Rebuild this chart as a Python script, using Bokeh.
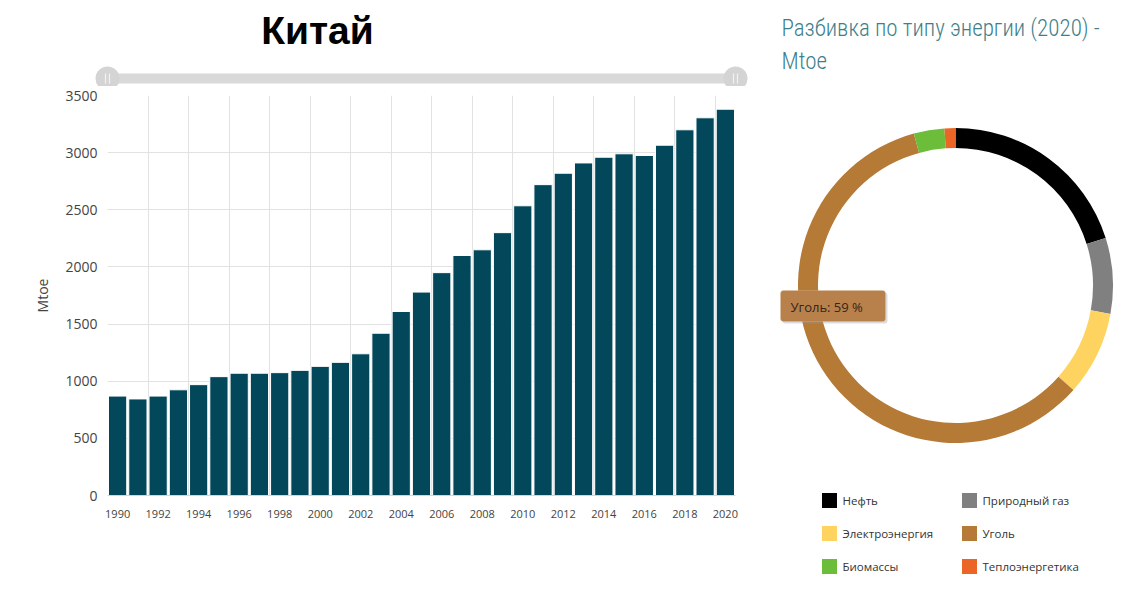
import numpy as np
from bokeh.plotting import figure
from bokeh.models import Range1d, FixedTicker, BoxAnnotation, Label
from bokeh.layouts import row, column
from bokeh.embed import file_html
from bokeh.resources import INLINE
from bokeh.core.properties import value

# ---------------- data ----------------
years = list(range(1990, 2021))
consumption = [870, 845, 870, 925, 970, 1040, 1070, 1070, 1075, 1095,
               1130, 1165, 1240, 1420, 1610, 1780, 1950, 2100, 2150, 2300,
               2535, 2720, 2820, 2910, 2960, 2990, 2975, 3065, 3200, 3305, 3380]
year_ticks = list(range(1990, 2021, 2))
y_ticks = [0, 500, 1000, 1500, 2000, 2500, 3000, 3500]

energy_types = ["Нефть", "Природный газ", "Электроэнергия", "Уголь", "Биомассы", "Теплоэнергетика"]
energy_values = [680, 262, 292, 2000, 106, 38]
energy_colors = ["#000000", "#808080", "#ffd35f", "#b47a36", "#6cbd3a", "#eb6527"]

title_left = "Китай"
title_right_1 = "Разбивка по типу энергии (2020) -"
title_right_2 = "Mtoe"
y_label = "Mtoe"

BAR_COLOR = "#03485a"
FONT = "Open Sans"
COND_FONT = "Roboto Condensed Light, Roboto Condensed, Roboto"

# ---------------- top strip: title + range slider ----------------
TOP_H = 86
top = figure(width=768, height=TOP_H, x_range=Range1d(0, 768), y_range=Range1d(TOP_H, 0),
             output_backend="svg", toolbar_location=None, min_border=0)
top.frame_align = False
top.axis.visible = False
top.grid.visible = False
top.outline_line_color = None
top.text(x=[317], y=[30], text=[title_left], text_font=value("Liberation Sans"),
         text_font_style="bold", text_font_size="39px", text_color="#000000",
         text_align="center", text_baseline="middle")
top.rect(x=[421], y=[78], width=628, height=10, fill_color="#d9d9d9", line_color=None)
top.circle(x=[107, 735], y=[78, 78], radius=12, fill_color="#d4d4d4", line_color=None)
top.segment(x0=[105, 109, 733, 737], y0=[73] * 4, x1=[105, 109, 733, 737], y1=[83] * 4,
            line_color="#f2f2f2", line_width=1.2)

# ---------------- bar chart ----------------
p = figure(width=768, height=443, x_range=Range1d(1989.5, 2020.5), y_range=Range1d(0, 3500),
           output_backend="svg", toolbar_location=None,
           min_border_left=107, min_border_right=33, min_border_top=9, min_border_bottom=34)
p.frame_align = False
p.outline_line_color = None
p.vbar(x=years, top=consumption, width=0.9, fill_color=BAR_COLOR, line_color="white", line_width=1)

p.xaxis.ticker = FixedTicker(ticks=year_ticks)
p.yaxis.ticker = FixedTicker(ticks=y_ticks)
p.xgrid.ticker = FixedTicker(ticks=[y - 0.5 for y in year_ticks] + [years[-1] + 0.5])
p.ygrid.ticker = FixedTicker(ticks=y_ticks)
p.grid.grid_line_color = "#e2e2e2"
p.grid.grid_line_width = 1

for ax in (p.xaxis, p.yaxis):
    ax.major_tick_line_color = None
    ax.minor_tick_line_color = None
    ax.major_tick_out = 0
    ax.major_tick_in = 0
    ax.minor_tick_out = 0
    ax.minor_tick_in = 0
    ax.major_label_text_font = FONT
    ax.major_label_text_color = "#444444"
p.yaxis.axis_line_color = None
p.xaxis.axis_line_color = "#ccd6eb"
p.xaxis.major_label_text_font_size = "11px"
p.yaxis.major_label_text_font_size = "14px"
p.xaxis.major_label_standoff = 14
p.yaxis.major_label_standoff = 10
p.yaxis.axis_label = y_label
p.yaxis.axis_label_text_font = FONT
p.yaxis.axis_label_text_font_size = "14px"
p.yaxis.axis_label_text_font_style = "normal"
p.yaxis.axis_label_text_color = "#444444"
p.yaxis.axis_label_standoff = 10

# ---------------- donut + legend ----------------
H = 590
def Y(py):
    return H - py

d = figure(width=358, height=H, x_range=Range1d(768, 1126), y_range=Range1d(0, H),
           output_backend="svg", toolbar_location=None, min_border=0)
d.frame_align = False
d.axis.visible = False
d.grid.visible = False
d.outline_line_color = None

d.text(x=[781, 781], y=[Y(28), Y(61)], text=[title_right_1, title_right_2],
       text_font=value(COND_FONT), text_font_size="23px",
       text_color="#3f7f8b", text_baseline="middle", text_align="left")

vals = np.array(energy_values, dtype=float)
frac = vals / vals.sum()
cum = np.concatenate([[0.0], np.cumsum(frac)])
start = np.pi / 2 - 2 * np.pi * cum[:-1]
end = np.pi / 2 - 2 * np.pi * cum[1:]
cx, cy = 955, Y(285)
d.annular_wedge(x=[cx] * len(vals), y=[cy] * len(vals), inner_radius=137.5, outer_radius=157.5,
                start_angle=list(start), end_angle=list(end), direction="clock",
                fill_color=energy_colors, line_color=None)

# tooltip (hovered coal slice)
coal_i = energy_types.index("Уголь")
pct = int(round(100 * frac[coal_i]))
d.add_layout(BoxAnnotation(left=782, right=887, top=Y(292), bottom=Y(323),
                           fill_color="#9a9a9a", fill_alpha=0.35, line_color=None, border_radius=3))
d.add_layout(BoxAnnotation(left=780, right=885, top=Y(290), bottom=Y(321),
                           fill_color="#b8804a", fill_alpha=1.0,
                           line_color="#dcc09e", line_width=1, border_radius=3))
d.add_layout(Label(x=790, y=Y(306), text=f"{energy_types[coal_i]}: {pct} %",
                   text_font=FONT, text_font_size="13px", text_color="#33261a",
                   text_baseline="middle", text_align="left"))

# legend (2 columns x 3 rows)
col_x = [829, 969]
row_y = [500, 533, 566]
lx = [col_x[i % 2] for i in range(len(energy_types))]
ly = [Y(row_y[i // 2]) for i in range(len(energy_types))]
d.rect(x=lx, y=ly, width=15, height=15, fill_color=energy_colors, line_color=None)
d.text(x=[x + 13 for x in lx], y=ly, text=energy_types, text_font=value(FONT),
       text_font_size="11.5px", text_color="#333333", text_baseline="middle", text_align="left")

layout = row(column(top, p), d)
open("out.html", "w").write(file_html(layout, INLINE))
